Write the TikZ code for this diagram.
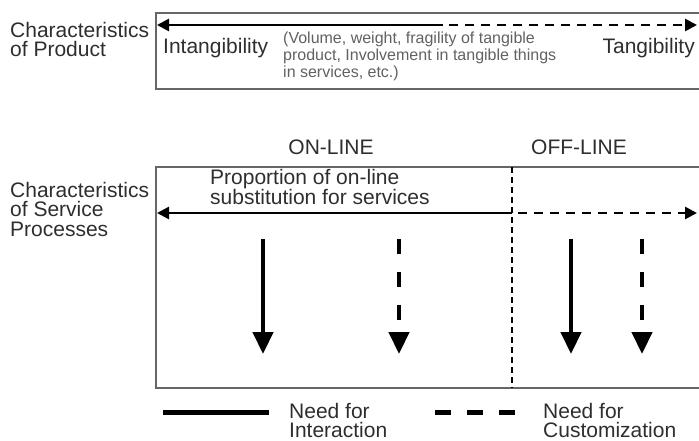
\documentclass[tikz,border=0pt]{standalone}
\usepackage{fontspec}
\setmainfont{Liberation Sans}
\usetikzlibrary{arrows.meta}

\begin{document}
\begin{tikzpicture}[x=1pt, y=-1pt,
  label text/.style={inner sep=0pt, align=left, text=black!82, font=\fontsize{21}{19.5}\selectfont},
  note text/.style={inner sep=0pt, align=left, text=black!62, font=\fontsize{16}{17}\selectfont},
  frame/.style={draw=black!60, line width=1.4pt},
  scale line/.style={line width=2.6pt, -{Triangle[length=12pt,width=12pt]}},
  need arrow/.style={line width=4.5pt, -{Triangle[length=22pt,width=20pt]}},
  key line/.style={line width=5pt}]
\useasboundingbox (0,0) rectangle (699,441);
\clip (0,0) rectangle (699,441);
% product box
\draw[frame] (156,13) rectangle (720,89);
\coordinate (pl) at (157,25);
\coordinate (pm) at (443,25);
\coordinate (pd) at (449,25);
\coordinate (pr) at (697,25);
\draw[scale line] (pm) to (pl);
\draw[scale line, dash pattern=on 9pt off 7pt] (pd) to (pr);
\node[label text, anchor=north west](prod) at (10,22) {Characteristics\\of Product};
\node[label text, anchor=base west](intang) at (163,54) {Intangibility};
\node[label text, anchor=base east](tang) at (695,54) {Tangibility};
\node[note text, anchor=north west](vol) at (283,32) {(Volume, weight, fragility of tangible\\product, Involvement in tangible things\\in services, etc.)};
% service box
\node[label text, anchor=base](on) at (331,155) {ON-LINE};
\node[label text, anchor=base](off) at (579,155) {OFF-LINE};
\draw[frame] (156,167) rectangle (720,388);
\coordinate (dt) at (512,167);
\coordinate (db) at (512,388);
\draw[line width=2pt, dash pattern=on 6pt off 4pt] (dt) to (db);
\coordinate (sl) at (157,213);
\coordinate (sm) at (512,213);
\coordinate (sd) at (518,213);
\coordinate (sr) at (697,213);
\draw[scale line] (sm) to (sl);
\draw[scale line, dash pattern=on 9pt off 7pt] (sd) to (sr);
\node[label text, anchor=north west](serv) at (10,182) {Characteristics\\of Service\\Processes};
\node[label text, anchor=north west, font=\fontsize{21}{18}\selectfont](prop) at (210,169) {Proportion of on-line\\substitution for services};
% needs
\coordinate (n1) at (263,239);
\coordinate (m1) at (263,354);
\coordinate (n2) at (399,239);
\coordinate (m2) at (399,354);
\coordinate (n3) at (571,239);
\coordinate (m3) at (571,354);
\coordinate (n4) at (642,239);
\coordinate (m4) at (642,354);
\draw[need arrow] (n1) to (m1);
\draw[need arrow, dash pattern=on 15pt off 18pt] (n2) to (m2);
\draw[need arrow] (n3) to (m3);
\draw[need arrow, dash pattern=on 15pt off 18pt] (n4) to (m4);
% legend
\coordinate (k1) at (163,412);
\coordinate (k2) at (269,412);
\coordinate (k3) at (435,412);
\coordinate (k4) at (515,412);
\draw[key line] (k1) to (k2);
\draw[key line, dash pattern=on 16pt off 16pt] (k3) to (k4);
\node[label text, anchor=north west, font=\fontsize{21}{19}\selectfont](inter) at (289,403) {Need for\\Interaction};
\node[label text, anchor=north west, font=\fontsize{21}{19}\selectfont](cust) at (543,403) {Need for\\Customization};
\end{tikzpicture}
\end{document}
